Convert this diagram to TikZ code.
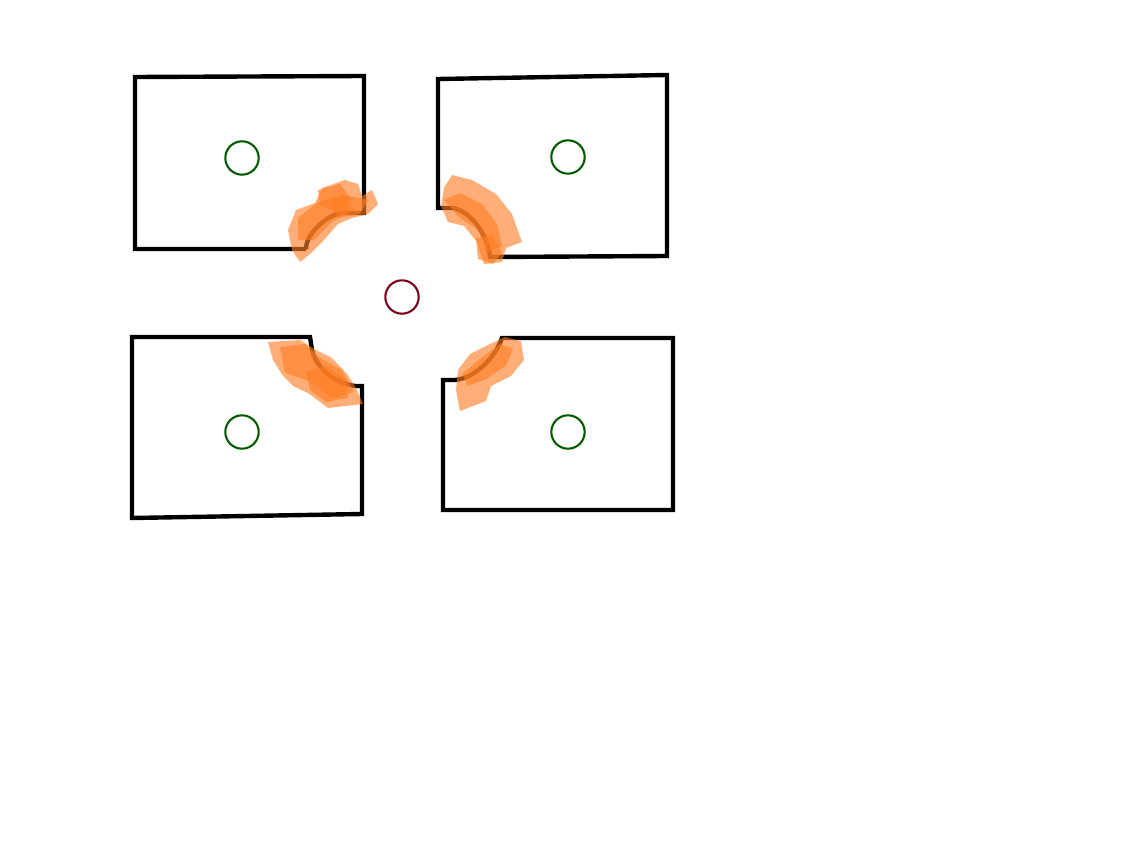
\documentclass[tikz,border=0pt]{standalone}
\usepackage{tikz}

\definecolor{wallc}{RGB}{0,0,0}
\definecolor{roomc}{RGB}{0,90,0}
\definecolor{hubc}{RGB}{120,0,25}
\definecolor{blobc}{RGB}{255,125,35}

\tikzstyle{wall} = [draw=wallc, line width=2.5pt, line join=miter]
\tikzstyle{spot} = [circle, draw=roomc, line width=1.2pt, minimum size=19pt, inner sep=0pt]
\tikzstyle{hub}  = [spot, draw=hubc]
\tikzstyle{blob} = [fill=blobc, fill opacity=0.62, draw=none]

\begin{document}
\begin{tikzpicture}[x=0.02cm, y=-0.02cm]
\useasboundingbox (0,0) rectangle (1140,855);

% rooms
\draw [wall] (306,249) -- (135,249) -- (135,77) -- (364,76) -- (364,213) -- (343,213)
  .. controls (330,213) and (306,232) .. (306,249);
\draw [wall] (452,208) -- (438,208) -- (438,79) -- (667,75) -- (667,256) -- (490,257)
  .. controls (488,235) and (470,210) .. (452,208);
\draw [wall] (312,350) -- (310,337) -- (132,337) -- (132,518) -- (362,514) -- (362,386) -- (355,386)
  .. controls (335,383) and (316,368) .. (312,350);
\draw [wall] (455,380) -- (443,380) -- (443,510) -- (673,510) -- (673,338) -- (502,338)
  .. controls (495,358) and (475,378) .. (455,380);

% centres
\node (room1) [spot] at (242,158) {};
\node (room2) [spot] at (568,157) {};
\node (room3) [spot] at (242,432) {};
\node (room4) [spot] at (568,432) {};
\node (hub)   [hub]  at (402,297) {};

% doors
\fill [blob] (288,230) -- (296,210) -- (315,203) -- (322,188) -- (345,180) -- (358,184) -- (362,196)
  -- (372,190) -- (378,204) -- (368,214) -- (352,218) -- (338,224) -- (324,240) -- (310,254) -- (300,262) -- (292,250) -- cycle;
\fill [blob] (298,218) -- (318,202) -- (345,194) -- (354,210) -- (332,222) -- (314,240) -- (298,240) -- cycle;
\fill [blob] (318,190) -- (340,184) -- (352,200) -- (336,212) -- (320,205) -- cycle;
\fill [blob] (330,200) -- (350,196) -- (368,200) -- (360,214) -- (338,218) -- cycle;

\fill [blob] (444,188) -- (452,175) -- (472,180) -- (496,194) -- (512,214) -- (522,242) -- (506,248)
  -- (502,262) -- (484,264) -- (477,242) -- (464,226) -- (448,222) -- (441,206) -- cycle;
\fill [blob] (444,200) -- (460,193) -- (482,204) -- (497,224) -- (502,246) -- (488,252) -- (478,230) -- (460,218) -- cycle;
\fill [blob] (476,238) -- (493,236) -- (502,252) -- (493,264) -- (478,259) -- cycle;

\fill [blob] (268,342) -- (300,340) -- (316,350) -- (332,358) -- (347,374) -- (356,388) -- (363,404)
  -- (328,408) -- (308,393) -- (293,386) -- (283,376) -- (273,360) -- cycle;
\fill [blob] (280,347) -- (305,344) -- (320,358) -- (342,370) -- (354,392) -- (332,399) -- (314,383) -- (285,373) -- cycle;
\fill [blob] (306,372) -- (326,366) -- (346,380) -- (348,398) -- (326,402) -- (310,390) -- cycle;

\fill [blob] (458,370) -- (470,354) -- (490,344) -- (505,337) -- (521,341) -- (524,360) -- (511,376)
  -- (491,386) -- (486,401) -- (460,411) -- (456,390) -- cycle;
\fill [blob] (462,374) -- (480,359) -- (500,344) -- (513,349) -- (506,366) -- (486,379) -- (468,386) -- cycle;
\end{tikzpicture}
\end{document}
